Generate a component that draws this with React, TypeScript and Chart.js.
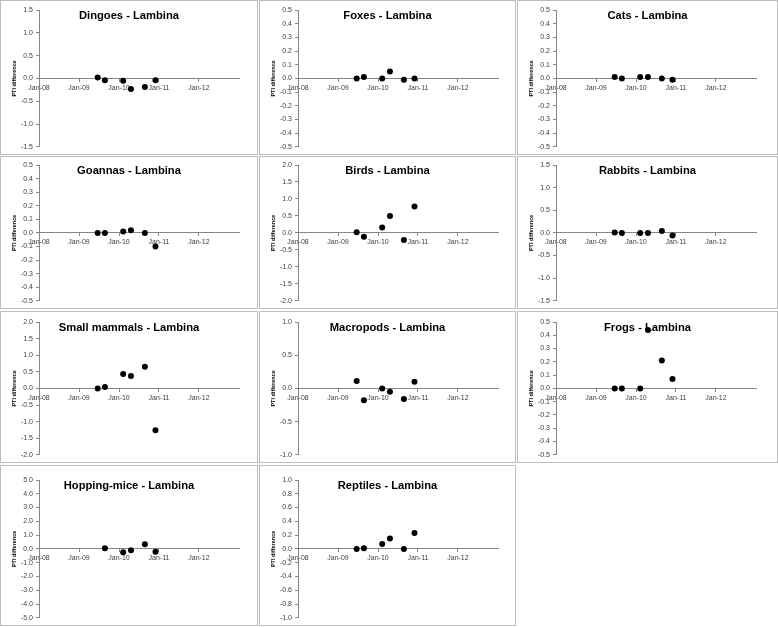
import React, { useEffect, useRef } from 'react';
import { Chart, registerables } from 'chart.js';

Chart.register(...registerables);
Chart.defaults.font.family = '"Liberation Sans", Arial, sans-serif';

// survey dates shared by every panel
const surveyDates = ['2009-06-20', '2009-08-25', '2010-02-08', '2010-04-20', '2010-08-25', '2010-11-30'];
const xTickDates = ['2008-01-01', '2009-01-01', '2010-01-01', '2011-01-01', '2012-01-01'];
const xStart = '2008-01-01';
const xEnd = '2013-01-01';

// PTI difference per survey (null = not surveyed)
const dingoes = [0.02, -0.04, -0.05, -0.23, -0.19, -0.04];
const foxes = [0.0, 0.01, 0.0, 0.05, -0.01, 0.0];
const cats = [0.01, 0.0, 0.01, 0.01, 0.0, -0.01];
const goannas = [0.0, 0.0, 0.01, 0.02, 0.0, -0.1];
const birds = [0.02, -0.11, 0.16, 0.5, -0.21, 0.78];
const rabbits = [0.01, 0.0, 0.0, 0.0, 0.04, -0.06];
const smallMammals = [0.0, 0.04, 0.43, 0.37, 0.65, -1.26];
const macropods = [0.11, -0.18, 0.0, -0.05, -0.16, 0.1];
const frogs = [0.0, 0.0, 0.0, 0.44, 0.21, 0.07];
const hoppingMice = [null, 0.05, -0.25, -0.1, 0.34, -0.2];
const reptiles = [0.0, 0.01, 0.07, 0.15, 0.0, 0.23];

const titles = [
  'Dingoes - Lambina', 'Foxes - Lambina', 'Cats - Lambina',
  'Goannas - Lambina', 'Birds - Lambina', 'Rabbits - Lambina',
  'Small mammals - Lambina', 'Macropods - Lambina', 'Frogs - Lambina',
  'Hopping-mice - Lambina', 'Reptiles - Lambina',
];
const series = [dingoes, foxes, cats, goannas, birds, rabbits, smallMammals, macropods, frogs, hoppingMice, reptiles];
const yLimits = [1.5, 0.5, 0.5, 0.5, 2, 1.5, 2, 1, 0.5, 5, 1];
const ySteps = [0.5, 0.1, 0.1, 0.1, 0.5, 0.5, 0.5, 0.5, 0.1, 1, 0.2];

// page layout of the grid
const cols = [
  { left: 0, width: 258 },
  { left: 259, width: 257 },
  { left: 517, width: 261 },
];
const rows = [
  { top: 0, height: 155, axisTop: 10, axisBottom: 147 },
  { top: 156, height: 153, axisTop: 165, axisBottom: 304 },
  { top: 311, height: 152, axisTop: 322, axisBottom: 460 },
  { top: 465, height: 161, axisTop: 480, axisBottom: 618 },
];

const toMs = (d: string) => Date.parse(d + 'T00:00:00Z');
const axisGrey = '#868686';
const tickColor = '#404040';

interface PanelProps {
  title: string;
  values: (number | null)[];
  limit: number;
  step: number;
  col: { left: number; width: number };
  row: { top: number; height: number; axisTop: number; axisBottom: number };
}

const Panel: React.FC<PanelProps> = ({ title, values, limit, step, col, row }) => {
  const chartRef = useRef<HTMLCanvasElement>(null);
  const w = col.width - 2;
  const h = row.height - 2;

  useEffect(() => {
    if (!chartRef.current) return;
    const ctx = chartRef.current.getContext('2d');
    if (!ctx) return;

    const points = surveyDates
      .map((d, i) => ({ x: toMs(d), y: values[i] }))
      .filter((p) => p.y !== null) as { x: number; y: number }[];

    const areaLeft = 38;
    const padTop = row.axisTop - row.top - 1;
    const padBottom = h - (row.axisBottom - row.top - 1);

    const titlePlugin = {
      id: 'panelTitle',
      beforeDatasetsDraw(chart: any) {
        const c = chart.ctx;
        c.save();
        c.font = 'bold 11.2px "Liberation Sans", Arial, sans-serif';
        c.fillStyle = '#000';
        c.textAlign = 'center';
        c.textBaseline = 'middle';
        c.fillText(title, chart.width / 2, chart.chartArea.top + 6);
        c.restore();
      },
    };

    const chart = new Chart(ctx, {
      type: 'scatter',
      data: {
        datasets: [
          {
            data: points,
            pointRadius: 3,
            pointHoverRadius: 3,
            pointBorderWidth: 0,
            backgroundColor: '#000',
            borderColor: '#000',
          },
        ],
      },
      plugins: [titlePlugin],
      options: {
        responsive: false,
        animation: false,
        layout: {
          padding: { left: 0, right: w - areaLeft - 200, top: padTop, bottom: padBottom },
        },
        plugins: {
          legend: { display: false },
          tooltip: { enabled: false },
          title: { display: false },
        },
        scales: {
          x: {
            type: 'linear',
            position: { y: 0 } as any,
            min: toMs(xStart),
            max: toMs(xEnd),
            afterBuildTicks: (scale: any) => {
              scale.ticks = xTickDates.map((d) => ({ value: toMs(d) }));
            },
            ticks: {
              autoSkip: false,
              maxRotation: 0,
              padding: 2,
              color: tickColor,
              font: { size: 7 },
              callback: (v: any) => {
                const yr = new Date(Number(v)).getUTCFullYear() % 100;
                return 'Jan-' + String(yr).padStart(2, '0');
              },
            },
            grid: { display: true, drawOnChartArea: false, drawTicks: true, tickLength: 3, color: axisGrey },
            border: { display: true, color: axisGrey },
          },
          y: {
            type: 'linear',
            min: -limit,
            max: limit,
            afterBuildTicks: (scale: any) => {
              const n = Math.round(limit / step);
              const t = [];
              for (let k = -n; k <= n; k++) t.push({ value: k * step });
              scale.ticks = t;
            },
            afterFit: (scale: any) => {
              scale.width = areaLeft;
            },
            ticks: {
              padding: 3,
              color: tickColor,
              font: { size: 7 },
              callback: (v: any) => {
                const n = Math.abs(Number(v)) < 1e-9 ? 0 : Number(v);
                return n.toFixed(1);
              },
            },
            grid: { display: true, drawOnChartArea: false, drawTicks: true, tickLength: 3, color: axisGrey },
            border: { display: true, color: axisGrey },
            title: {
              display: true,
              text: 'PTI difference',
              color: '#000',
              font: { size: 5.5, weight: 'bold' },
              padding: { top: 10, bottom: 0 },
            },
          },
        },
      },
    });

    return () => {
      chart.destroy();
    };
  }, [title, values, limit, step, col, row]);

  return (
    <div
      style={{
        position: 'absolute',
        left: col.left,
        top: row.top,
        width: col.width,
        height: row.height,
        boxSizing: 'border-box',
        border: '1px solid #bdbdbd',
        background: '#fff',
      }}
    >
      <canvas ref={chartRef} width={w} height={h} style={{ display: 'block' }}></canvas>
    </div>
  );
};

const App: React.FC = () => {
  return (
    <div style={{ position: 'absolute', left: 0, top: 0, width: 778, height: 627, background: '#fff' }}>
      {titles.map((t, i) => (
        <Panel
          key={t}
          title={t}
          values={series[i]}
          limit={yLimits[i]}
          step={ySteps[i]}
          col={cols[i % 3]}
          row={rows[Math.floor(i / 3)]}
        />
      ))}
    </div>
  );
};

export default App;
